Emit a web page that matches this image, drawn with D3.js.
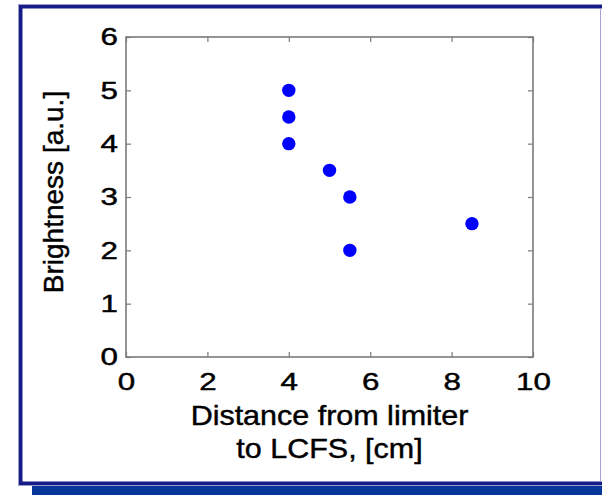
<!DOCTYPE html>
<html>
<head>
<meta charset="utf-8">
<script src="https://cdn.jsdelivr.net/npm/d3@7"></script>
<style>
  body { margin: 0; background: #fff; }
  svg { display: block; font-family: "Liberation Sans", Arial, sans-serif; }
  svg text { stroke: #000; stroke-width: 0.45px; }
</style>
</head>
<body>
<div id="chart"></div>
<script>
'use strict';

// values
var distance   = [4, 4, 4, 5, 5.5, 5.5, 8.5];
var brightness = [5, 4.5, 4, 3.5, 3, 2, 2.5];
var xTicks = [0, 2, 4, 6, 8, 10];
var yTicks = [0, 1, 2, 3, 4, 5, 6];
var xLabel = ["Distance from limiter", "to LCFS, [cm]"];
var yLabel = "Brightness [a.u.]";

var width = 602, height = 495,
    plot = {left: 126, right: 533, top: 37, bottom: 357},
    axisColor = "#7a7a7a",
    fmt = d3.format("d");

var svg = d3.select("#chart").append("svg")
    .attr("width", width)
    .attr("height", height);

// slide frame: navy border with a blue shadow at the bottom
svg.append("rect").attr("x", 32).attr("y", 485).attr("width", width - 32).attr("height", 10)
    .attr("fill", "#07369b");
svg.append("rect").attr("x", 18).attr("y", 4).attr("width", width - 18).attr("height", 482)
    .attr("fill", "#9c9ccc");
svg.append("rect").attr("x", 19).attr("y", 5).attr("width", width - 19).attr("height", 480)
    .attr("fill", "#161b87");
svg.append("rect").attr("x", 22.5).attr("y", 8.5).attr("width", width - 22.5).attr("height", 473)
    .attr("fill", "#fff");
svg.append("line").attr("x1", 600.5).attr("x2", 600.5).attr("y1", 8).attr("y2", 482)
    .attr("stroke", "#a4a4d4").attr("stroke-width", 1);

var x = d3.scaleLinear().domain([0, 10]).range([plot.left, plot.right]),
    y = d3.scaleLinear().domain([0, 6]).range([plot.bottom, plot.top]);

// the digits in the picture are wide, so stretch them a bit
function styleAxis(g) {
    g.select(".domain").remove();
    g.selectAll(".tick line").attr("stroke", axisColor).attr("stroke-width", 1.2);
    g.selectAll(".tick text").attr("fill", "#000").style("font-size", "24.5px")
        .attr("transform", "scale(1.28,1)");
}

// axes with inward ticks, mirrored on top and right
svg.append("g").attr("transform", "translate(0," + plot.bottom + ")")
    .call(d3.axisBottom(x).tickValues(xTicks).tickFormat(fmt)
        .tickSizeInner(-5).tickSizeOuter(0).tickPadding(16))
    .call(styleAxis);
svg.append("g").attr("transform", "translate(" + plot.left + ",0)")
    .call(d3.axisLeft(y).tickValues(yTicks).tickFormat(fmt)
        .tickSizeInner(-5).tickSizeOuter(0).tickPadding(6.3))
    .call(styleAxis);
svg.append("g").attr("transform", "translate(0," + plot.top + ")")
    .call(d3.axisTop(x).tickValues(xTicks).tickSizeInner(-5).tickSizeOuter(0).tickFormat(""))
    .call(styleAxis);
svg.append("g").attr("transform", "translate(" + plot.right + ",0)")
    .call(d3.axisRight(y).tickValues(yTicks).tickSizeInner(-5).tickSizeOuter(0).tickFormat(""))
    .call(styleAxis);

// box
svg.append("rect")
    .attr("x", plot.left).attr("y", plot.top)
    .attr("width", plot.right - plot.left).attr("height", plot.bottom - plot.top)
    .attr("fill", "none").attr("stroke", axisColor).attr("stroke-width", 1.6);

// points
svg.append("g").selectAll("circle")
    .data(distance)
    .enter().append("circle")
    .attr("cx", function(d) { return x(d); })
    .attr("cy", function(d, i) { return y(brightness[i]); })
    .attr("r", 6.7)
    .attr("fill", "#0000ff");

// axis labels
var cx = (plot.left + plot.right) / 2;
svg.append("text")
    .attr("transform", "translate(" + cx + ",0) scale(1.07,1)")
    .attr("text-anchor", "middle")
    .style("font-size", "28.5px")
    .selectAll("tspan")
    .data(xLabel)
    .enter().append("tspan")
    .attr("x", 0)
    .attr("y", function(d, i) { return 425 + i * 33; })
    .text(function(d) { return d; });

svg.append("text")
    .attr("transform", "translate(63,192) rotate(-90)")
    .attr("text-anchor", "middle")
    .style("font-size", "28px")
    .text(yLabel);
</script>
</body>
</html>
